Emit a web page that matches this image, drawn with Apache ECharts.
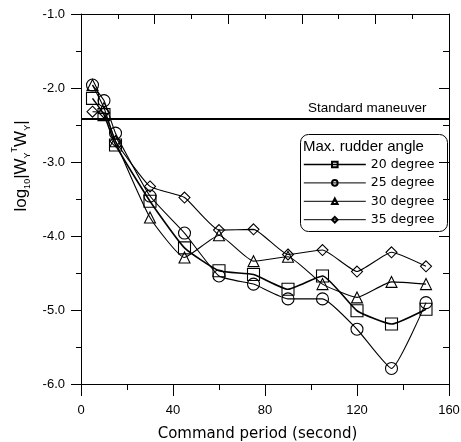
<!DOCTYPE html>
<html><head><meta charset="utf-8">
<script src="https://cdn.jsdelivr.net/npm/echarts@6/dist/echarts.min.js"></script>
<style>html,body{margin:0;padding:0;background:#fff}#c{width:461px;height:442px}</style>
</head><body><div id="c"></div>
<script>
var periods = [5, 10, 15, 30, 45, 60, 75, 90, 105, 120, 135, 150];
var deg20 = [-2.14, -2.36, -2.77, -3.53, -4.16, -4.47, -4.52, -4.72, -4.54, -5.01, -5.19, -4.99];
var deg25 = [-1.96, -2.17, -2.61, -3.46, -3.96, -4.54, -4.65, -4.85, -4.85, -5.26, -5.79, -4.90];
var deg30 = [-1.96, -2.27, -2.72, -3.75, -4.29, -3.99, -4.34, -4.28, -4.65, -4.83, -4.62, -4.65];
var deg35 = [-2.32, -2.33, -2.72, -3.33, -3.48, -3.92, -3.91, -4.25, -4.19, -4.48, -4.22, -4.41];
var seriesNames = ['20 degree', '25 degree', '30 degree', '35 degree'];
var standardLevel = -2.42;
var yTicks = [-6, -1, 1];
var xTicks = [0, 160, 40];

var chart = echarts.init(document.getElementById('c'), null, {renderer: 'canvas'});
function pairs(arr) { return periods.map(function (p, i) { return [p, arr[i]]; }); }
function mk(name, data, symbol, size, lw) {
  return {
    name: name, type: 'line', data: pairs(data), smooth: 0.15,
    symbol: symbol, symbolSize: size, showAllSymbol: true,
    lineStyle: {color: '#000', width: lw},
    itemStyle: {color: 'rgba(255,255,255,0)', borderColor: '#000', borderWidth: 1.1},
    emphasis: {disabled: true}, z: 3
  };
}
var s = [
  mk(seriesNames[0], deg20, 'rect', 12, 1.6),
  mk(seriesNames[1], deg25, 'circle', 12, 1.1),
  mk(seriesNames[2], deg30, 'triangle', 11, 1.1),
  mk(seriesNames[3], deg35, 'diamond', 11, 1.1)
];
s[0].markLine = {
  silent: true, symbol: 'none',
  lineStyle: {color: '#000', width: 2, type: 'solid'},
  label: {show: false},
  data: [{yAxis: standardLevel}]
};
var font = 'Liberation Sans, Arial, sans-serif';
var font2 = 'DejaVu Sans, Verdana, sans-serif';
chart.setOption({
  animation: false,
  backgroundColor: '#fff',
  grid: {left: 81, right: 12, top: 14, bottom: 58, outerBoundsMode: 'none', containLabel: false},
  xAxis: [{
    type: 'value', min: xTicks[0], max: xTicks[1], interval: xTicks[2], position: 'bottom',
    axisLine: {show: true, onZero: false, lineStyle: {color: '#000', width: 1}},
    axisTick: {show: true, length: 12, lineStyle: {color: '#000'}},
    minorTick: {show: true, splitNumber: 2, length: 6, lineStyle: {color: '#000'}},
    splitLine: {show: false},
    axisLabel: {color: '#000', fontSize: 13, fontFamily: font, margin: 20},
    name: 'Command period (second)', nameLocation: 'middle', nameGap: 43,
    nameTextStyle: {color: '#000', fontSize: 15, fontFamily: font2, padding: [0, 15, 0, 0]}
  }, {
    type: 'value', min: 0, max: 160, interval: 32, position: 'top',
    axisLine: {show: true, onZero: false, lineStyle: {color: '#000', width: 1}},
    axisTick: {show: true, inside: true, length: 10, lineStyle: {color: '#000'}},
    minorTick: {show: true, splitNumber: 2, length: 5, lineStyle: {color: '#000'}},
    splitLine: {show: false}, axisLabel: {show: false}
  }],
  yAxis: [{
    type: 'value', min: yTicks[0], max: yTicks[1], interval: yTicks[2], position: 'left',
    axisLine: {show: true, onZero: false, lineStyle: {color: '#000', width: 1}},
    axisTick: {show: true, length: 10, lineStyle: {color: '#000'}},
    minorTick: {show: true, splitNumber: 2, length: 5, lineStyle: {color: '#000'}},
    splitLine: {show: false},
    axisLabel: {color: '#000', fontSize: 13, fontFamily: font, margin: 16,
      formatter: function (v) { return v.toFixed(1); }},
    name: '{n|log}{s|10}{n||W}{s|Y}{p|T}{n|W}{s|Y}{n||}', nameLocation: 'middle', nameGap: 42, nameRotate: 90,
    nameTextStyle: {color: '#000', fontFamily: font, padding: [0, 0, 0, 66],
      rich: {
        n: {fontSize: 17, fontFamily: font, color: '#000', verticalAlign: 'bottom', lineHeight: 20},
        s: {fontSize: 9, fontFamily: font, color: '#000', verticalAlign: 'bottom', lineHeight: 20, padding: [0, 0, -2, 0]},
        p: {fontSize: 9, fontFamily: font, color: '#000', verticalAlign: 'top', lineHeight: 20}
      }}
  }, {
    type: 'value', min: -6, max: -1, interval: 1, position: 'right',
    axisLine: {show: true, onZero: false, lineStyle: {color: '#000', width: 1}},
    axisTick: {show: true, inside: true, length: 10, lineStyle: {color: '#000'}},
    minorTick: {show: true, splitNumber: 2, length: 6, lineStyle: {color: '#000'}},
    splitLine: {show: false}, axisLabel: {show: false}
  }],
  legend: {
    data: [
      {name: seriesNames[0], lineStyle: {width: 1.6}},
      {name: seriesNames[1], lineStyle: {width: 1}},
      {name: seriesNames[2], lineStyle: {width: 1}},
      {name: seriesNames[3], lineStyle: {width: 1}}
    ],
    orient: 'vertical', left: 303, top: 158, padding: 0,
    itemWidth: 62, itemHeight: 7, itemGap: 5.4, selectedMode: false,
    textStyle: {color: '#000', fontSize: 12.5, fontFamily: font2}
  },
  graphic: [
    {type: 'rect', left: 298, top: 132, shape: {width: 147, height: 97, r: 8},
     style: {fill: 'none', stroke: '#000', lineWidth: 1}, z: 10, silent: true},
    {type: 'text', left: 303, top: 139, z: 10, silent: true,
     style: {text: 'Max. rudder angle', fill: '#000', fontSize: 15, fontFamily: font}},
    {type: 'text', left: 308, top: 101, z: 10, silent: true,
     style: {text: 'Standard maneuver', fill: '#000', fontSize: 13.5, fontFamily: font}}
  ],
  series: s
});
</script></body></html>
